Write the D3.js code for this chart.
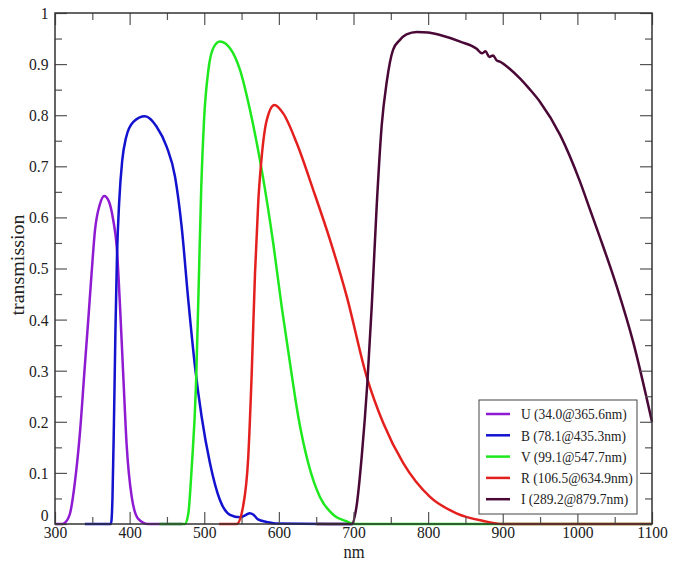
<!DOCTYPE html>
<html>
<head>
<meta charset="utf-8">
<script src="https://cdn.jsdelivr.net/npm/d3@7"></script>
<style>
body{margin:0;background:#fff;}
</style>
</head>
<body>
<div id="grafico"></div>
<script>

const fuente = "'Liberation Serif','DejaVu Serif',serif";

// DATOS

const filtros = ["U","B","V","R","I"];

const etiquetas = [
"U (34.0@365.6nm)",
"B (78.1@435.3nm)",
"V (99.1@547.7nm)",
"R (106.5@634.9nm)",
"I (289.2@879.7nm)"
];

const uNm  = [300,310,313,320,327,333.5,340,344.6,349,353.6,360,366,372,378,382.7,387,391.5,396,402.8,411.6,424.6,470];
const uVal = [0,0,0.002,0.02,0.086,0.18,0.31,0.40,0.49,0.575,0.625,0.642,0.632,0.595,0.543,0.43,0.29,0.155,0.053,0.01,0,0];

const bNm  = [340,375,377,379,381,383,386,390,395,405,420.6,436,449.7,460.8,469.7,478.6,487.6,496.5,507.7,521,534.5,548,556,561,566,572,583.7,595,700];
const bVal = [0,0,0.05,0.2,0.38,0.52,0.63,0.71,0.755,0.787,0.798,0.778,0.738,0.68,0.582,0.438,0.308,0.21,0.119,0.047,0.018,0.013,0.018,0.021,0.018,0.009,0.004,0.001,0];

const vNm  = [440,474,478.7,483,489,492.5,496,499.7,505.5,512,521,534.5,548,561.3,577,592.5,603.8,615,626,639.4,655,673,691,700,1100];
const vVal = [0,0,0.021,0.106,0.275,0.464,0.66,0.79,0.888,0.931,0.944,0.931,0.888,0.81,0.693,0.549,0.425,0.314,0.21,0.119,0.053,0.018,0.005,0,0];

const rNm  = [520,543.5,552,559,563.6,568,572.5,577,583.7,594,606,624,646,668.5,691,717.7,740,766.7,802.5,838,874,900,1100];
const rVal = [0,0,0.034,0.132,0.295,0.49,0.634,0.719,0.79,0.82,0.803,0.745,0.654,0.556,0.445,0.288,0.197,0.119,0.053,0.021,0.006,0,0];

const iNm  = [650,697.6,704,711,718.5,724.4,731,737.8,744.5,753,762,771,785,800,816,843,865,872,877,882,887,892,896,910,923,936,950,977,1003.5,1017,1030,1052.7,1075,1100];
const iVal = [0,0,0.034,0.132,0.275,0.425,0.62,0.78,0.865,0.928,0.947,0.958,0.963,0.962,0.957,0.944,0.93,0.921,0.925,0.914,0.917,0.907,0.905,0.89,0.872,0.851,0.826,0.761,0.67,0.615,0.562,0.465,0.355,0.2];

const colores = ["#8e1ad2","#1212cf","#1ee81e","#e4201e","#4a0836"];

const xTicks = [300,400,500,600,700,800,900,1000,1100];
const yTicks = [0,0.1,0.2,0.3,0.4,0.5,0.6,0.7,0.8,0.9,1];


const series = [
{nm:uNm,val:uVal},
{nm:bNm,val:bVal},
{nm:vNm,val:vVal},
{nm:rNm,val:rVal},
{nm:iNm,val:iVal}
].map((s,i)=>({
filtro:filtros[i],
color:colores[i],
puntos:s.nm.map((n,j)=>({nm:n,t:s.val[j]}))
}));


const width=673;
const height=568;

const svg = d3.select("#grafico")
.append("svg")
.attr("width",width)
.attr("height",height)
.style("font-family",fuente);


const x = d3.scaleLinear()
.domain([300,1100])
.range([55,652]);

const y = d3.scaleLinear()
.domain([0,1])
.range([524,13]);


// CURVAS

const linea = d3.line()
.x(d=>x(d.nm))
.y(d=>y(d.t))
.curve(d3.curveMonotoneX);

svg.selectAll(".curva")
.data(series)
.enter()
.append("path")
.attr("class","curva")
.attr("d",d=>linea(d.puntos))
.attr("fill","none")
.attr("stroke",d=>d.color)
.attr("stroke-width",2.5)
.attr("stroke-linejoin","round");


// EJES (ticks hacia adentro en los cuatro lados)

const minX = d3.range(350,1100,100);
const minY = d3.range(0.05,1,0.1);

function estilo(g){
g.attr("font-family",null);
g.select(".domain").remove();
g.selectAll("line").attr("stroke","#555").attr("stroke-width",1.2);
g.selectAll("text")
.style("font-family",fuente)
.style("font-size","17px")
.attr("fill","#222")
.attr("transform","scale(0.92,1)");
}

// abajo
svg.append("g")
.attr("transform","translate(0,524)")
.call(d3.axisBottom(x).tickValues(xTicks).tickFormat(d3.format("d")).tickSizeInner(-12).tickSizeOuter(0).tickPadding(2))
.call(estilo);

svg.append("g")
.attr("transform","translate(0,524)")
.call(d3.axisBottom(x).tickValues(minX).tickFormat("").tickSizeInner(-7).tickSizeOuter(0))
.call(estilo);

// arriba
svg.append("g")
.attr("transform","translate(0,13)")
.call(d3.axisTop(x).tickValues(xTicks).tickFormat("").tickSizeInner(-12).tickSizeOuter(0))
.call(estilo);

svg.append("g")
.attr("transform","translate(0,13)")
.call(d3.axisTop(x).tickValues(minX).tickFormat("").tickSizeInner(-7).tickSizeOuter(0))
.call(estilo);

// izquierda
const ejeY = svg.append("g")
.attr("transform","translate(55,0)")
.call(d3.axisLeft(y).tickValues(yTicks).tickFormat(d=>d===0||d===1?d3.format("d")(d):d3.format(".1f")(d)).tickSizeInner(-12).tickSizeOuter(0).tickPadding(7))
.call(estilo);

// el "0" va un poco mas arriba para no chocar con "300"
ejeY.selectAll(".tick text")
.filter(d=>d===0)
.attr("y",-9);

svg.append("g")
.attr("transform","translate(55,0)")
.call(d3.axisLeft(y).tickValues(minY).tickFormat("").tickSizeInner(-7).tickSizeOuter(0))
.call(estilo);

// derecha
svg.append("g")
.attr("transform","translate(652,0)")
.call(d3.axisRight(y).tickValues(yTicks).tickFormat("").tickSizeInner(-12).tickSizeOuter(0))
.call(estilo);

svg.append("g")
.attr("transform","translate(652,0)")
.call(d3.axisRight(y).tickValues(minY).tickFormat("").tickSizeInner(-7).tickSizeOuter(0))
.call(estilo);


// MARCO

svg.append("rect")
.attr("x",55)
.attr("y",13)
.attr("width",652-55)
.attr("height",524-13)
.attr("fill","none")
.attr("stroke","#333")
.attr("stroke-width",1.5);


// ETIQUETA X

svg.append("text")
.attr("transform","translate(354,558) scale(0.92,1)")
.attr("text-anchor","middle")
.style("font-size","18px")
.attr("fill","#222")
.text("nm");


// ETIQUETA Y

svg.append("text")
.attr("transform","translate(18,265) scale(0.92,1) rotate(-90)")
.attr("dy","0.35em")
.attr("text-anchor","middle")
.style("font-size","20px")
.attr("fill","#222")
.text("transmission");


// LEYENDA

const leyenda = svg.append("g");

leyenda.append("rect")
.attr("x",479)
.attr("y",400)
.attr("width",158)
.attr("height",114)
.attr("fill","#fff")
.attr("stroke","#444")
.attr("stroke-width",1);

const filas = leyenda.selectAll(".fila")
.data(series)
.enter()
.append("g")
.attr("transform",(d,i)=>"translate(0,"+(414+i*21.3)+")");

filas.append("line")
.attr("x1",486)
.attr("x2",510)
.attr("stroke",d=>d.color)
.attr("stroke-width",2.5);

filas.append("text")
.attr("transform","translate(521,0) scale(0.9,1)")
.attr("dy","0.35em")
.style("font-size","15px")
.attr("fill","#222")
.text((d,i)=>etiquetas[i]);

</script>
</body>
</html>
